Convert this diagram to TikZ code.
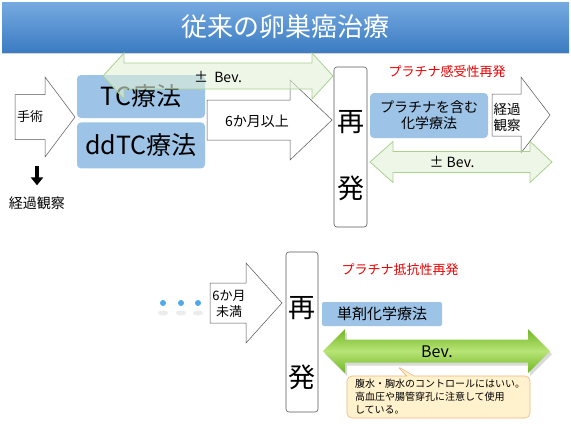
\documentclass[tikz,border=0pt]{standalone}
\usepackage{fontspec}
\setmainfont{Noto Sans CJK JP}
\usepackage{xcolor}
\usepackage{tikz}
\usetikzlibrary{arrows.meta,positioning,shapes.callouts,shadows}
\newcommand{\fs}[2]{\fontsize{#1}{#2}\selectfont}
% block arrows: style, x of tail, x of head base, x of tip, y centre, half shaft, half head
\newcommand{\rblock}[7]{%
  \path[#1] (#2,#5-#6) -- (#3,#5-#6) -- (#3,#5-#7) -- (#4,#5)
    -- (#3,#5+#7) -- (#3,#5+#6) -- (#2,#5+#6) -- cycle;}
% double block arrows: style, left tip, left base, right base, right tip, y centre, half shaft, half head
\newcommand{\dblock}[8]{%
  \path[#1] (#2,#6) -- (#3,#6-#8) -- (#3,#6-#7) -- (#4,#6-#7) -- (#4,#6-#8)
    -- (#5,#6) -- (#4,#6+#8) -- (#4,#6+#7) -- (#3,#6+#7) -- (#3,#6+#8) -- cycle;}
\definecolor{clrTitleT}{RGB}{118,170,224}
\definecolor{clrTitleB}{RGB}{60,124,194}
\definecolor{clrBox}{RGB}{157,195,230}
\definecolor{clrPale}{RGB}{226,240,217}
\definecolor{clrPaleE}{RGB}{169,209,142}
\definecolor{clrGreenA}{RGB}{112,182,36}
\definecolor{clrGreenB}{RGB}{184,228,118}
\definecolor{clrRed}{RGB}{232,0,0}
\definecolor{clrNoteF}{RGB}{255,242,204}
\definecolor{clrNoteE}{RGB}{240,180,130}
\definecolor{clrDot}{RGB}{78,168,236}
\tikzset{
  titlebar/.style={rectangle,top color=clrTitleT,bottom color=clrTitleB,
    text=white,font=\fs{26}{30},
    drop shadow={opacity=0.35,shadow xshift=0pt,shadow yshift=-2pt}},
  treat/.style={rectangle,rounded corners=4pt,fill=clrBox,inner sep=0pt,align=center},
  relapse/.style={rectangle,rounded corners=3pt,draw=gray!70!black,fill=white,
    line width=0.6pt,minimum width=33pt,minimum height=160pt},
  bigchar/.style={font=\fs{27}{30},inner sep=0pt},
  blockarrow/.style={draw=gray!65!black,fill=white,line width=0.5pt},
  palearrow/.style={draw=clrPaleE,fill=clrPale,fill opacity=0.6,line width=0.8pt},
  bevarrow/.style={top color=clrGreenA,bottom color=clrGreenA,middle color=clrGreenB,
    drop shadow={opacity=0.3,shadow xshift=2pt,shadow yshift=-3pt}},
  lbl/.style={font=\fs{13}{16},align=center,inner sep=0pt},
  redlbl/.style={font=\fs{13}{16},text=clrRed,inner sep=0pt},
  dropdown/.style={-{Triangle[length=8pt,width=12pt]},line width=4pt},
  dot/.style={circle,fill=clrDot,inner sep=0pt,minimum size=6pt},
  note/.style={rectangle callout,rounded corners=5pt,fill=clrNoteF,draw=clrNoteE,
    line width=0.6pt,font=\fs{10}{13},text width=167pt,align=left,
    inner xsep=8pt,minimum height=42pt}
}
\begin{document}
\begin{tikzpicture}[x=1pt,y=-1pt]
  \useasboundingbox (0,0) rectangle (571,429);

  \node[titlebar,minimum width=567pt,minimum height=50pt] (title) at (285.5,27)
    {従来の卵巣癌治療};

  % first line treatment
  \rblock{blockarrow}{15}{45}{75}{117}{22.5}{40}
  \node[lbl] (surgery) at (30,117) {手術};
  \coordinate (drop) at (37,166);
  \node[lbl,font=\fs{14}{16}] (obsleft) at (37,203) {経過観察};
  \draw[dropdown,shorten >=11pt] (drop) -- (obsleft.north);

  \node[treat,minimum width=128pt,minimum height=43pt,font=\fs{25}{28}]
    (tc) at (141,96.5) {TC療法};
  \node[treat,minimum width=128pt,minimum height=46pt,font=\fs{25}{28},
    below=4pt of tc] (ddtc) {ddTC療法};

  \rblock{blockarrow}{207}{290}{332}{120}{20}{40}
  \node[lbl,font=\fs{14}{16}] (over6) at (257,121) {6か月以上};

  \dblock{palearrow}{103}{124}{312}{333}{76}{13}{23}
  \node[lbl,font=\fs{14}{16}] (beva) at (218,77) {±\ \ Bev.};

  % platinum sensitive relapse
  \node[relapse] (relA) at (350.5,147) {};
  \node[bigchar] (relAre) at (350.5,122) {再};
  \node[bigchar] (relAhatsu) at (350.5,188) {発};

  \node[redlbl] (sensitive) at (447,72) {プラチナ感受性再発};

  \rblock{blockarrow}{492}{521}{550}{115}{21}{38}
  \node[lbl,font=\fs{13.5}{16}] (obsright) at (507,117) {経過\\観察};

  \node[treat,minimum width=118pt,minimum height=45pt,font=\fs{14}{16}]
    (platchemo) at (429,115.5) {プラチナを含む\\化学療法};

  \dblock{palearrow}{370}{393}{530}{552}{162}{10.5}{20.5}
  \node[lbl,font=\fs{14}{16}] (bevb) at (452,162) {± Bev.};

  % platinum resistant relapse
  \foreach \x/\n in {163/A,181/B,198/C}{
    \fill[gray!50,opacity=0.3] (\x,313) ellipse (5 and 2.5);
    \node[dot] (dot\n) at (\x,303) {};
  }

  \rblock{blockarrow}{210}{246}{282}{303}{20}{40}
  \node[lbl] (under6) at (229,304) {6か月\\未満};

  \node[relapse,minimum width=32pt] (relB) at (302,332) {};
  \node[bigchar] (relBre) at (302,308) {再};
  \node[bigchar] (relBhatsu) at (302,377) {発};

  \node[redlbl] (resistant) at (400,270) {プラチナ抵抗性再発};

  \node[treat,rounded corners=2pt,minimum width=120pt,minimum height=24pt,
    font=\fs{15}{18}] (single) at (382,314) {単剤化学療法};

  \dblock{bevarrow}{323}{345}{528}{550}{351}{11.5}{22}
  \node[lbl,font=\fs{16}{18}] (bevc) at (437,352) {Bev.};

  \node[note,callout absolute pointer={(397,366)}] (note) at (438.5,397)
    {腹水・胸水のコントロールにはいい。\\
     高血圧や腸管穿孔に注意して使用\\
     している。};
\end{tikzpicture}
\end{document}
